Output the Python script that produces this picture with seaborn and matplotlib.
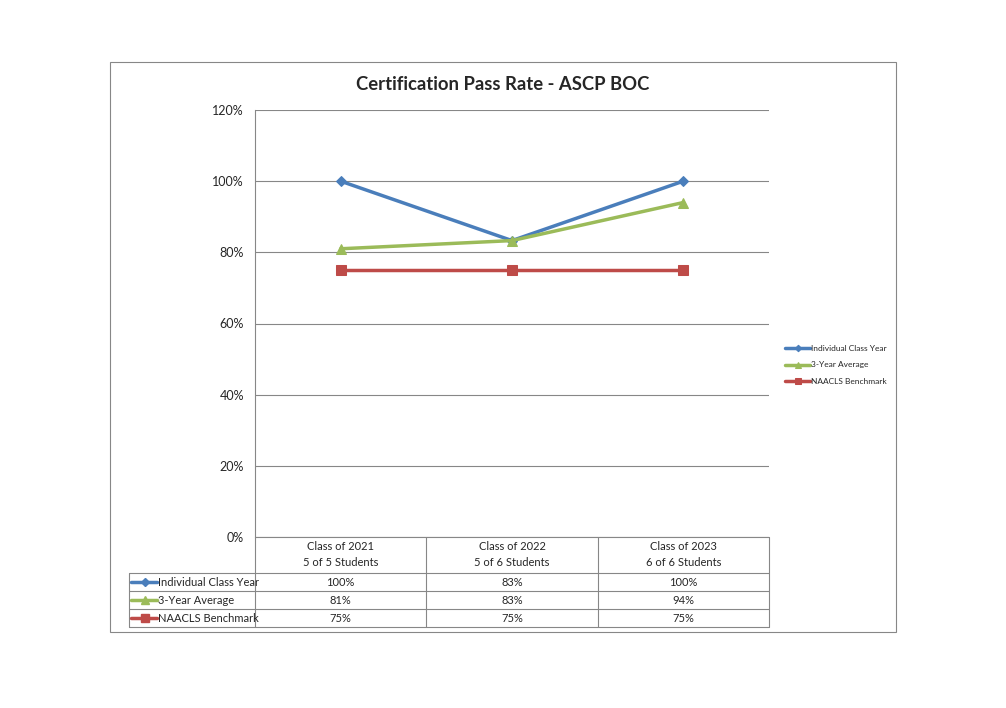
import matplotlib
matplotlib.use("Agg")
import matplotlib.pyplot as plt
from matplotlib.lines import Line2D
from matplotlib.patches import Rectangle
import seaborn as sns
import pandas as pd

turmas = ["Class of 2021", "Class of 2022", "Class of 2023"]
alunos = ["5 of 5 Students", "5 of 6 Students", "6 of 6 Students"]
series = ["Individual Class Year", "3-Year Average", "NAACLS Benchmark"]
individual = [100, 83.3, 100]
media_3anos = [81, 83.3, 94]
benchmark = [75, 75, 75]
rotulos_tabela = {
    "Individual Class Year": ["100%", "83%", "100%"],
    "3-Year Average": ["81%", "83%", "94%"],
    "NAACLS Benchmark": ["75%", "75%", "75%"],
}
yticks = [0, 20, 40, 60, 80, 100, 120]

cores = {"Individual Class Year": "#4A7EBB", "3-Year Average": "#9BBB59", "NAACLS Benchmark": "#BE4B48"}
marcadores = {"Individual Class Year": "D", "3-Year Average": "^", "NAACLS Benchmark": "s"}
tam_marc = {"Individual Class Year": 5.5, "3-Year Average": 6.5, "NAACLS Benchmark": 6.5}

linhas = []
for nome, vals in zip(series, [individual, media_3anos, benchmark]):
    for i, v in enumerate(vals):
        linhas.append({"serie": nome, "x": i, "valor": v})
df = pd.DataFrame(linhas)

sns.set_style("white")
plt.rcParams["font.family"] = ["Lato", "DejaVu Sans"]

W, H = 1006, 708
fig = plt.figure(figsize=(W / 100, H / 100), dpi=100)

def fx(px):
    return px / W

def fy(py):
    return 1 - py / H

L, R, T, B = 255, 769, 110, 537
ax = fig.add_axes([fx(L), fy(B), fx(R - L), (B - T) / H])

for nome in series:
    sub = df[df["serie"] == nome]
    sns.lineplot(data=sub, x="x", y="valor", ax=ax, color=cores[nome],
                 marker=marcadores[nome], markersize=tam_marc[nome],
                 markeredgecolor=cores[nome], linewidth=2.5, label=nome)

ax.set_xlim(-0.5, 2.5)
ax.set_ylim(0, 120)
ax.set_yticks(yticks)
ax.set_yticklabels([f"{t}%" for t in yticks], fontsize=9)
ax.set_xticks([])
ax.set_xlabel("")
ax.set_ylabel("")
ax.grid(axis="y", color="#878787", linewidth=0.8)
for s in ["top", "right", "bottom"]:
    ax.spines[s].set_visible(False)
ax.spines["left"].set_color("#878787")
ax.tick_params(axis="y", length=5, color="#878787", direction="out", pad=3)

leg = ax.legend(loc="center left", bbox_to_anchor=(1.012, 0.403), frameon=False,
                fontsize=6, handlelength=3.0, handletextpad=0.05, labelspacing=1.15,
                markerscale=0.6, borderaxespad=0.8)

fig.text(fx(503), fy(85), "Certification Pass Rate - ASCP BOC", ha="center", va="center",
         fontsize=13.3, fontweight="bold")

# outer frame
fig.add_artist(Rectangle((fx(110), fy(632)), fx(896 - 110), (632 - 62) / H,
                         transform=fig.transFigure, fill=False, edgecolor="#878787", linewidth=0.8))

# data table
cinza = "#878787"
def linha(x0, y0, x1, y1):
    fig.add_artist(Line2D([fx(x0), fx(x1)], [fy(y0), fy(y1)], transform=fig.transFigure,
                          color=cinza, linewidth=0.8))

cols = [255, 426.3, 597.7, 769]
rows = [537, 573, 591, 609, 627]
left = 129
linha(L, rows[0], R, rows[0])
for y in rows[1:]:
    linha(left, y, R, y)
for x in cols:
    linha(x, rows[0], x, rows[-1])
linha(left, rows[1], left, rows[-1])

for j in range(3):
    cx = (cols[j] + cols[j + 1]) / 2
    fig.text(fx(cx), fy(546), turmas[j], ha="center", va="center", fontsize=8)
    fig.text(fx(cx), fy(563), alunos[j], ha="center", va="center", fontsize=8)

for i, nome in enumerate(series):
    cy = (rows[i + 1] + rows[i + 2]) / 2
    fig.add_artist(Line2D([fx(131), fx(157)], [fy(cy), fy(cy)], transform=fig.transFigure,
                          color=cores[nome], linewidth=2.5))
    fig.add_artist(Line2D([fx(145)], [fy(cy)], transform=fig.transFigure, color=cores[nome],
                          marker=marcadores[nome], markersize=tam_marc[nome] - 1,
                          markeredgecolor=cores[nome], linestyle="none"))
    fig.text(fx(158), fy(cy), nome, ha="left", va="center", fontsize=8)
    for j in range(3):
        cx = (cols[j] + cols[j + 1]) / 2
        fig.text(fx(cx), fy(cy), rotulos_tabela[nome][j], ha="center", va="center", fontsize=8)

fig.savefig("out.png", dpi=100)
